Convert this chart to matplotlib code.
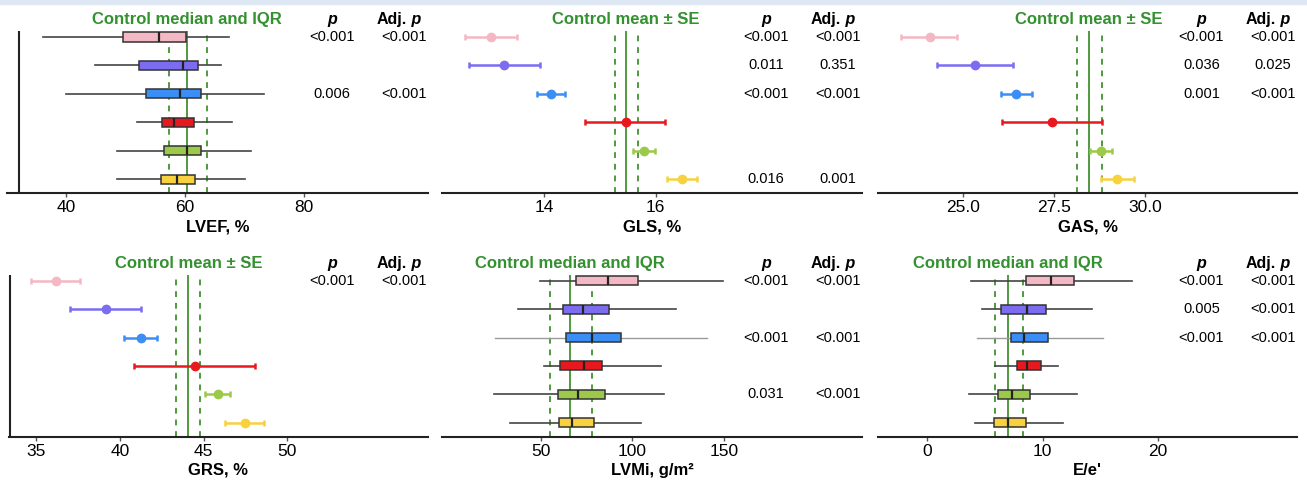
import matplotlib
matplotlib.use('Agg')
import matplotlib.pyplot as plt
import matplotlib.transforms as mtransforms
from matplotlib.patches import Rectangle

plt.rcParams['font.family'] = ['Liberation Sans', 'DejaVu Sans']

colors = ['#f4b8c4', '#7b6cf0', '#3a8ef5', '#e8191e', '#9dc94a', '#f7d23e']
ctrl_col = '#4f9a3e'
title_col = '#33912f'

# LVEF (boxplot)
lvef_lo = [36.2, 44.9, 40.05, 51.9, 48.5, 48.5]
lvef_q1 = [49.6, 52.3, 53.5, 56.1, 56.5, 55.9]
lvef_med = [55.7, 59.7, 59.1, 58.2, 60.3, 58.7]
lvef_q3 = [60.2, 62.2, 62.6, 61.5, 62.7, 61.7]
lvef_hi = [67.3, 66.1, 73.3, 67.9, 71.0, 70.0]
lvef_ctrl = [60.3, 57.3, 63.7]
lvef_p = ['<0.001', '', '0.006', '', '', '']
lvef_adj = ['<0.001', '', '<0.001', '', '', '']

# GLS (mean +- SE)
gls_mean = [13.04, 13.28, 14.13, 15.46, 15.79, 16.48]
gls_lo = [12.59, 12.66, 13.88, 14.73, 15.59, 16.21]
gls_hi = [13.51, 13.92, 14.38, 16.17, 15.99, 16.75]
gls_ctrl = [15.46, 15.27, 15.68]
gls_p = ['<0.001', '0.011', '<0.001', '', '', '0.016']
gls_adj = ['<0.001', '0.351', '<0.001', '', '', '0.001']

# GAS
gas_mean = [24.10, 25.34, 26.47, 27.45, 28.80, 29.23]
gas_lo = [23.32, 24.30, 26.04, 26.07, 28.49, 28.79]
gas_hi = [24.86, 26.38, 26.91, 28.82, 29.10, 29.69]
gas_ctrl = [28.47, 28.15, 28.81]
gas_p = ['<0.001', '0.036', '0.001', '', '', '']
gas_adj = ['<0.001', '0.025', '<0.001', '', '', '']

# GRS
grs_mean = [36.14, 39.13, 41.22, 44.46, 45.83, 47.45]
grs_lo = [34.66, 37.0, 40.25, 40.82, 45.07, 46.29]
grs_hi = [37.61, 41.24, 42.18, 48.05, 46.59, 48.58]
grs_ctrl = [44.08, 43.32, 44.79]
grs_p = ['<0.001', '', '', '', '', '']
grs_adj = ['<0.001', '', '', '', '', '']

# LVMi (boxplot)
lvmi_lo = [49.6, 37.8, 24.7, 52.0, 24.4, 32.9]
lvmi_q1 = [69.1, 62.0, 63.5, 60.5, 59.5, 60.0]
lvmi_med = [86.5, 73.1, 78.0, 73.6, 70.2, 67.1]
lvmi_q3 = [102.9, 87.3, 93.8, 83.6, 85.1, 79.1]
lvmi_hi = [149.6, 123.6, 140.9, 115.6, 117.3, 104.5]
lvmi_ctrl = [66.0, 54.9, 78.0]
lvmi_p = ['<0.001', '', '<0.001', '', '0.031', '']
lvmi_adj = ['<0.001', '', '<0.001', '', '<0.001', '']

# E/e' (boxplot)
ee_lo = [3.83, 4.75, 4.32, 5.90, 3.68, 4.17]
ee_q1 = [8.60, 6.42, 7.25, 7.77, 6.13, 5.84]
ee_med = [10.71, 8.69, 8.43, 8.66, 7.37, 7.02]
ee_q3 = [12.69, 10.27, 10.45, 9.84, 8.95, 8.55]
ee_hi = [17.70, 14.30, 15.19, 11.31, 12.98, 11.77]
ee_ctrl = [6.99, 5.90, 8.32]
ee_p = ['<0.001', '0.005', '<0.001', '', '', '']
ee_adj = ['<0.001', '<0.001', '<0.001', '', '', '']

rows = [5, 4, 3, 2, 1, 0]
W, H = 1307, 480
YLIM = (-0.49, 5.95)

fig = plt.figure(figsize=(W / 100, H / 100), dpi=100)
fig.patches.append(Rectangle((0, 1 - 4 / H), 1, 4 / H, transform=fig.transFigure,
                             color='#dde8f4', zorder=0))


def make_ax(x0, x1, ybot):
    ax = fig.add_axes([x0 / W, 1 - ybot / H, (x1 - x0) / W, 183 / H])
    for s in ['top', 'right', 'left']:
        ax.spines[s].set_visible(False)
    ax.spines['bottom'].set_linewidth(1.5)
    ax.spines['bottom'].set_color('#222222')
    return ax


def finish(ax, xlim, ticks, ticklabels, xlabel, ctrl, title, pvals, adj, vaxis=None):
    ax.set_ylim(*YLIM)
    ax.set_yticks([])
    ax.tick_params(axis='x', length=3, width=1, color='#555555', labelsize=12.5, pad=2)
    ax.set_xlim(*xlim)
    ax.set_xticks(ticks)
    ax.set_xticklabels(ticklabels)
    ax.set_xlabel(xlabel, fontsize=12, fontweight='bold', labelpad=3)
    ax.vlines(ctrl[0], -0.49, 5.2, color=ctrl_col, lw=1.4, zorder=1)
    ax.vlines(ctrl[1:], -0.49, 5.2, color=ctrl_col, lw=1.4, linestyles=(0, (3, 3)), zorder=1)
    ax.text(ctrl[0], 5.6, title, color=title_col, fontsize=12, fontweight='bold',
            ha='center', va='center')
    tr = mtransforms.blended_transform_factory(ax.transAxes, ax.transData)
    ax.text(0.772, 5.6, 'p', transform=tr, fontsize=11.5, fontweight='bold',
            style='italic', ha='center', va='center')
    off = mtransforms.offset_copy(tr, fig=fig, x=2.5, units='points')
    ax.text(0.942, 5.6, 'Adj.', transform=off, fontsize=11.5, fontweight='bold',
            ha='right', va='center')
    ax.text(0.942, 5.6, ' p', transform=off, fontsize=11.5, fontweight='bold',
            style='italic', ha='left', va='center')
    for y, pv, av in zip(rows, pvals, adj):
        ax.text(0.772, y, pv, transform=tr, fontsize=10.5, ha='center', va='center')
        ax.text(0.942, y, av, transform=tr, fontsize=10.5, ha='center', va='center')
    if vaxis is not None:
        ax.vlines(vaxis, -0.49, 5.2, color='#222222', lw=1.5, clip_on=False)


def boxes(ax, lo, q1, med, q3, hi, light_blue=False):
    stats = []
    for i in range(6):
        stats.append(dict(whislo=lo[i], q1=q1[i], med=med[i], q3=q3[i], whishi=hi[i]))
    bp = ax.bxp(stats, positions=rows, orientation='horizontal', widths=0.32,
                showfliers=False, showcaps=False, patch_artist=True,
                boxprops=dict(edgecolor='#333333', linewidth=1.1),
                whiskerprops=dict(color='#444444', linewidth=1.2),
                medianprops=dict(color='#222222', linewidth=1.6))
    for b, c in zip(bp['boxes'], colors):
        b.set_facecolor(c)
        b.set_zorder(3)
    for m in bp['medians']:
        m.set_zorder(4)
    if light_blue:
        for w in bp['whiskers'][4:6]:
            w.set_color('#9a9a9a')
            w.set_linewidth(1.0)


def points(ax, mean, lo, hi):
    for y, m, l, h, c in zip(rows, mean, lo, hi, colors):
        ax.errorbar(m, y, xerr=[[m - l], [h - m]], fmt='o', color=c, ms=6,
                    elinewidth=1.8, capsize=2.5, capthick=1.8, zorder=3)


ax1 = make_ax(7, 428, 193)
boxes(ax1, lvef_lo, lvef_q1, lvef_med, lvef_q3, lvef_hi)
finish(ax1, (30.1, 100.8), [40, 60, 80], ['40', '60', '80'], 'LVEF, %', lvef_ctrl,
       'Control median and IQR', lvef_p, lvef_adj, vaxis=32.05)

ax2 = make_ax(442, 862, 193)
points(ax2, gls_mean, gls_lo, gls_hi)
finish(ax2, (12.17, 19.70), [14, 16], ['14', '16'], 'GLS, %', gls_ctrl,
       'Control mean \u00b1 SE', gls_p, gls_adj)

ax3 = make_ax(878, 1297, 193)
points(ax3, gas_mean, gas_lo, gas_hi)
finish(ax3, (22.68, 34.17), [25, 27.5, 30], ['25.0', '27.5', '30.0'], 'GAS, %', gas_ctrl,
       'Control mean \u00b1 SE', gas_p, gas_adj)

ax4 = make_ax(9, 428, 436.7)
points(ax4, grs_mean, grs_lo, grs_hi)
finish(ax4, (33.36, 58.4), [35, 40, 45, 50], ['35', '40', '45', '50'], 'GRS, %', grs_ctrl,
       'Control mean \u00b1 SE', grs_p, grs_adj, vaxis=33.42)

ax5 = make_ax(442, 862, 436.7)
boxes(ax5, lvmi_lo, lvmi_q1, lvmi_med, lvmi_q3, lvmi_hi, light_blue=True)
finish(ax5, (-4.0, 225.5), [50, 100, 150], ['50', '100', '150'], 'LVMi, g/m\u00b2',
       lvmi_ctrl, 'Control median and IQR', lvmi_p, lvmi_adj)

ax6 = make_ax(878, 1297, 436.7)
boxes(ax6, ee_lo, ee_q1, ee_med, ee_q3, ee_hi, light_blue=True)
finish(ax6, (-4.23, 32.0), [0, 10, 20], ['0', '10', '20'], "E/e'", ee_ctrl,
       'Control median and IQR', ee_p, ee_adj)

fig.savefig('out.png', dpi=100)
